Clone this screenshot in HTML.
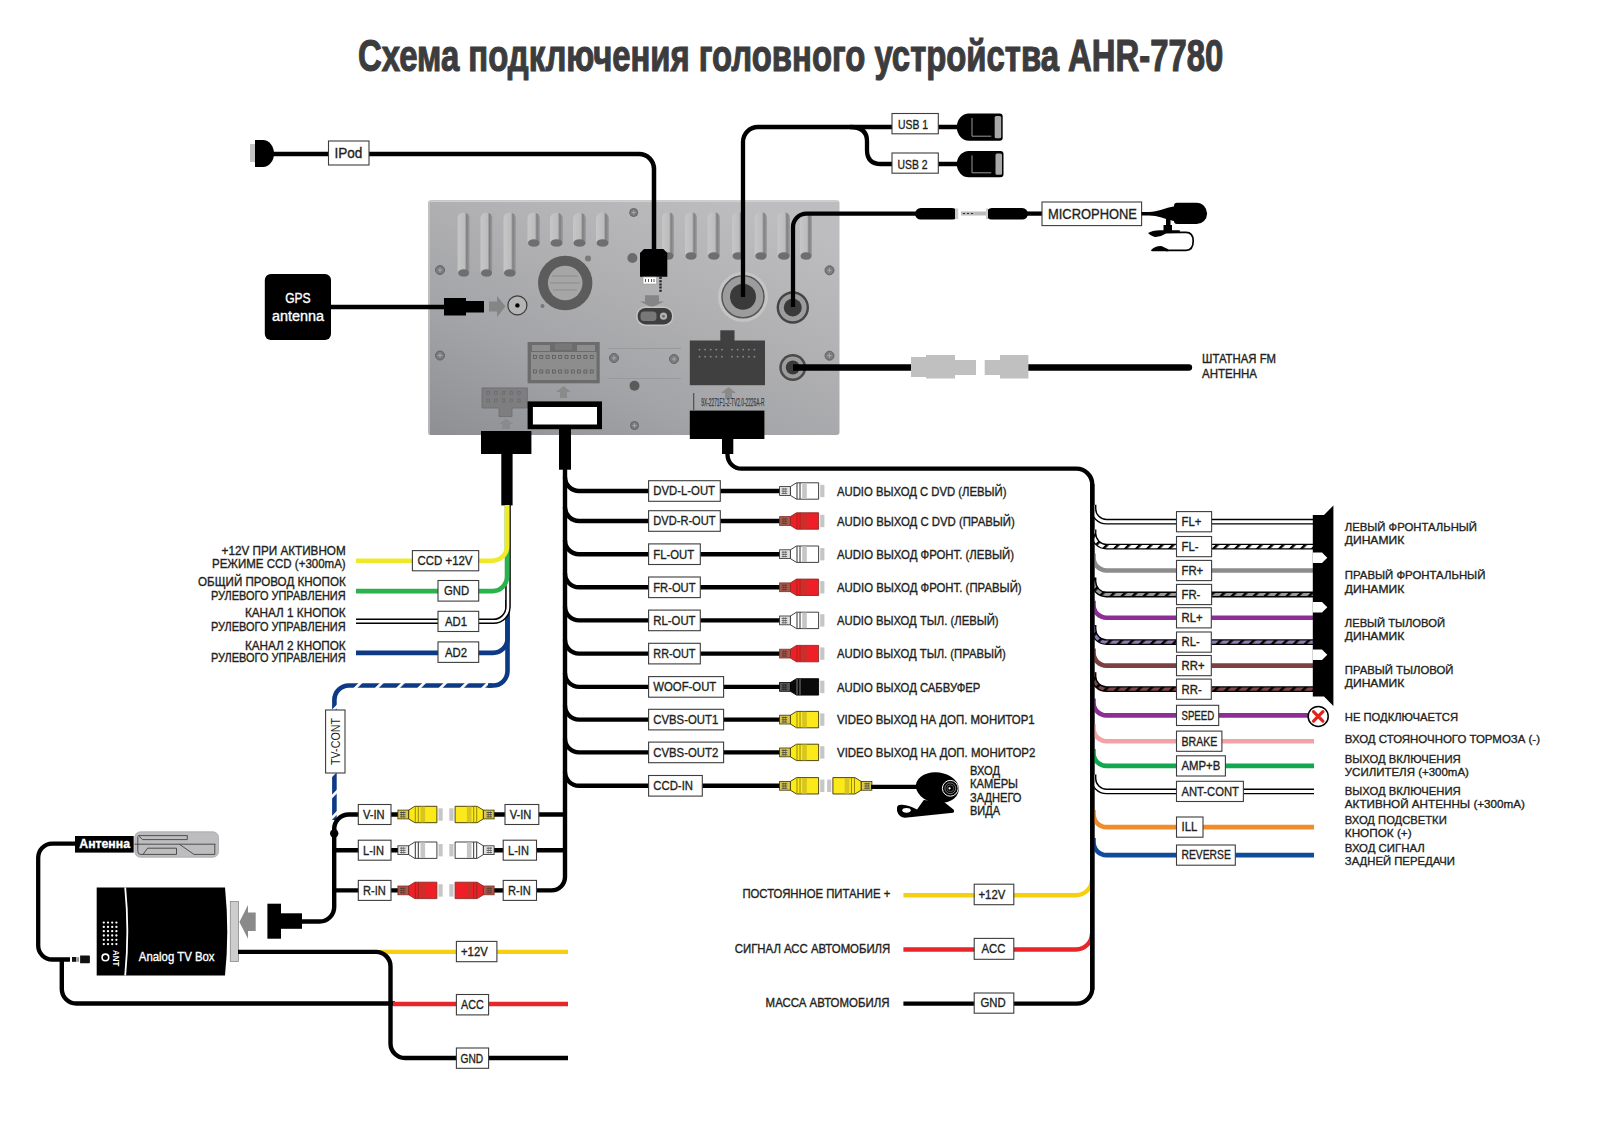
<!DOCTYPE html>
<html><head><meta charset="utf-8"><title>AHR-7780</title>
<style>
html,body{margin:0;padding:0;background:#fff;width:1600px;height:1131px;overflow:hidden}
svg{display:block}
text{font-family:"Liberation Sans",sans-serif}
.bx{fill:#fff;stroke:#3d3d3d;stroke-width:1.1}
</style></head><body>
<svg width="1600" height="1131" viewBox="0 0 1600 1131">
<defs>
<linearGradient id="body" x1="0" y1="1" x2="0.75" y2="0">
<stop offset="0" stop-color="#8e8f93"/><stop offset="0.35" stop-color="#a3a4a7"/><stop offset="0.7" stop-color="#b2b2b4"/><stop offset="1" stop-color="#bdbdbf"/>
</linearGradient>
<linearGradient id="slot" x1="0" y1="0" x2="1" y2="0">
<stop offset="0" stop-color="#c6c6c6"/><stop offset="0.6" stop-color="#bcbcbc"/><stop offset="0.75" stop-color="#7e7e80"/><stop offset="1" stop-color="#a0a0a2"/>
</linearGradient>
<pattern id="bdash" patternUnits="userSpaceOnUse" width="15.03" height="40" patternTransform="rotate(45)">
<rect width="15.03" height="40" fill="#0d3a85"/><rect width="2.7" height="40" fill="#fff"/>
</pattern>
</defs>
<rect width="1600" height="1131" fill="#fff"/>

<text x="358.0" y="70.7" font-size="45" stroke="#3c3c3e" stroke-width="1.2" font-weight="bold" fill="#3c3c3e" textLength="865.3" lengthAdjust="spacingAndGlyphs" >Схема подключения головного устройства AHR-7780</text>
<rect x="428" y="200.3" width="411.5" height="234.7" rx="3" fill="url(#body)"/>
<path d="M429,434 V202 Q429,201.3 431,201.3 H838" fill="none" stroke="#cfcfcf" stroke-width="1.2"/>
<rect x="457.6" y="212.5" width="12.1" height="64.5" rx="6.0" fill="url(#slot)"/>
<ellipse cx="463.6" cy="273.0" rx="5.5" ry="3.8" fill="#6e6e70"/>
<rect x="480.5" y="212.5" width="12.0" height="64.5" rx="6.0" fill="url(#slot)"/>
<ellipse cx="486.5" cy="273.0" rx="5.5" ry="3.8" fill="#6e6e70"/>
<rect x="503.5" y="212.5" width="12.5" height="64.5" rx="6.2" fill="url(#slot)"/>
<ellipse cx="509.8" cy="273.0" rx="5.8" ry="3.8" fill="#6e6e70"/>
<rect x="527.5" y="212.5" width="12.5" height="34.5" rx="6.2" fill="url(#slot)"/>
<ellipse cx="533.8" cy="243.0" rx="5.8" ry="3.8" fill="#6e6e70"/>
<rect x="550.0" y="212.5" width="13.0" height="34.5" rx="6.5" fill="url(#slot)"/>
<ellipse cx="556.5" cy="243.0" rx="6.0" ry="3.8" fill="#6e6e70"/>
<rect x="573.0" y="212.5" width="13.0" height="34.5" rx="6.5" fill="url(#slot)"/>
<ellipse cx="579.5" cy="243.0" rx="6.0" ry="3.8" fill="#6e6e70"/>
<rect x="596.0" y="212.5" width="13.0" height="34.5" rx="6.5" fill="url(#slot)"/>
<ellipse cx="602.5" cy="243.0" rx="6.0" ry="3.8" fill="#6e6e70"/>
<rect x="662.0" y="212.0" width="12.0" height="48.0" rx="6.0" fill="url(#slot)"/>
<ellipse cx="668.0" cy="256.0" rx="5.5" ry="3.8" fill="#6e6e70"/>
<rect x="685.0" y="212.0" width="12.0" height="48.0" rx="6.0" fill="url(#slot)"/>
<ellipse cx="691.0" cy="256.0" rx="5.5" ry="3.8" fill="#6e6e70"/>
<rect x="707.6" y="212.0" width="12.4" height="48.0" rx="6.2" fill="url(#slot)"/>
<ellipse cx="713.8" cy="256.0" rx="5.7" ry="3.8" fill="#6e6e70"/>
<rect x="732.0" y="212.0" width="12.0" height="48.0" rx="6.0" fill="url(#slot)"/>
<ellipse cx="738.0" cy="256.0" rx="5.5" ry="3.8" fill="#6e6e70"/>
<rect x="754.7" y="212.0" width="12.3" height="48.0" rx="6.1" fill="url(#slot)"/>
<ellipse cx="760.9" cy="256.0" rx="5.6" ry="3.8" fill="#6e6e70"/>
<rect x="777.5" y="212.0" width="12.5" height="48.0" rx="6.2" fill="url(#slot)"/>
<ellipse cx="783.8" cy="256.0" rx="5.8" ry="3.8" fill="#6e6e70"/>
<rect x="800.0" y="212.0" width="12.0" height="48.0" rx="6.0" fill="url(#slot)"/>
<ellipse cx="806.0" cy="256.0" rx="5.5" ry="3.8" fill="#6e6e70"/>
<circle cx="440.0" cy="270.0" r="4.5" fill="#7c7c7e" stroke="#5e5e60" stroke-width="0.9"/>
<path d="M437.8,270.0 h4.5 M440.0,267.8 v4.5" stroke="#b0b0b0" stroke-width="0.8"/>
<circle cx="633.7" cy="212.5" r="4.0" fill="#7c7c7e" stroke="#5e5e60" stroke-width="0.9"/>
<path d="M631.7,212.5 h4.0 M633.7,210.5 v4.0" stroke="#b0b0b0" stroke-width="0.8"/>
<circle cx="829.5" cy="270.3" r="4.5" fill="#7c7c7e" stroke="#5e5e60" stroke-width="0.9"/>
<path d="M827.2,270.3 h4.5 M829.5,268.1 v4.5" stroke="#b0b0b0" stroke-width="0.8"/>
<circle cx="440.0" cy="355.5" r="4.5" fill="#7c7c7e" stroke="#5e5e60" stroke-width="0.9"/>
<path d="M437.8,355.5 h4.5 M440.0,353.2 v4.5" stroke="#b0b0b0" stroke-width="0.8"/>
<circle cx="829.5" cy="355.7" r="4.5" fill="#7c7c7e" stroke="#5e5e60" stroke-width="0.9"/>
<path d="M827.2,355.7 h4.5 M829.5,353.4 v4.5" stroke="#b0b0b0" stroke-width="0.8"/>
<circle cx="614.0" cy="358.0" r="4.5" fill="#7c7c7e" stroke="#5e5e60" stroke-width="0.9"/>
<path d="M611.8,358.0 h4.5 M614.0,355.8 v4.5" stroke="#b0b0b0" stroke-width="0.8"/>
<circle cx="674.0" cy="359.0" r="4.5" fill="#7c7c7e" stroke="#5e5e60" stroke-width="0.9"/>
<path d="M671.8,359.0 h4.5 M674.0,356.8 v4.5" stroke="#b0b0b0" stroke-width="0.8"/>
<circle cx="634.5" cy="425.5" r="4.0" fill="#7c7c7e" stroke="#5e5e60" stroke-width="0.9"/>
<path d="M632.5,425.5 h4.0 M634.5,423.5 v4.0" stroke="#b0b0b0" stroke-width="0.8"/>
<circle cx="632.4" cy="258.0" r="5.0" fill="#6b6b6b" />
<circle cx="588.0" cy="258.5" r="3.0" fill="#7a7a7a" />
<circle cx="542.5" cy="306.0" r="2.0" fill="#777" />
<circle cx="634.5" cy="385.7" r="5.0" fill="#5a5a5a" />
<path d="M608,348.5 H681 M608,378.5 H681" stroke="#999" stroke-width="1" fill="none"/>
<circle cx="565.2" cy="283.0" r="27.2" fill="#5c5c5c" />
<circle cx="565.2" cy="283.0" r="17.3" fill="#a6a6a6" />
<path d="M552,276 H578 M550,283 H580 M553,290 H577" stroke="#8c8c8c" stroke-width="1.2" fill="none"/>
<polygon points="489,301.5 497,301.5 497,296 505.5,306.5 497,317 497,311.5 489,311.5" fill="#858585"/>
<circle cx="517.4" cy="305.4" r="9.5" fill="#b4b4b4" stroke="#3a3a3a" stroke-width="1.2"/>
<circle cx="517.4" cy="305.4" r="2.2" fill="#000" />
<polygon points="645,295.3 659,295.3 659,301.5 664,301.5 651.8,307.5 640,301.5 645,301.5" fill="#858585"/>
<rect x="636" y="306.5" width="37.5" height="19.5" rx="9.5" fill="#c4c4c4"/>
<rect x="637.6" y="308" width="34.4" height="16.4" rx="8" fill="#3e3e3e"/>
<rect x="640.5" y="311.5" width="16" height="9.5" rx="3.5" fill="#787878"/>
<circle cx="663.5" cy="316.2" r="3.6" fill="#b0b0b0" />
<circle cx="663.5" cy="316.2" r="1.3" fill="#666" />
<circle cx="743.0" cy="296.8" r="25.0" fill="#c4c4c4" />
<circle cx="743.0" cy="296.8" r="21.0" fill="#9c9c9c" stroke="#555" stroke-width="1.5"/>
<circle cx="743.0" cy="296.8" r="13.0" fill="#3a3a3a" />
<circle cx="792.8" cy="307.5" r="16.2" fill="#444" />
<circle cx="792.8" cy="307.5" r="13.8" fill="#9c9c9c" />
<circle cx="792.8" cy="307.5" r="9.0" fill="#3a3a3a" />
<circle cx="792.8" cy="367.5" r="13.5" fill="#4a4a4a" />
<circle cx="792.8" cy="367.5" r="11.0" fill="#9c9c9c" />
<circle cx="792.8" cy="367.5" r="7.0" fill="#3a3a3a" />
<rect x="527.6" y="342.0" width="72.1" height="41.3" fill="#6c6c6c" />
<rect x="531.0" y="352.0" width="65.5" height="28.0" fill="#8d8d8d" />
<rect x="532.0" y="345.0" width="18.0" height="6.0" fill="#8d8d8d" />
<rect x="555.0" y="343.5" width="17.0" height="6.5" fill="#777" />
<rect x="577.0" y="345.0" width="18.0" height="6.0" fill="#8d8d8d" />
<rect x="533.5" y="355.5" width="3" height="3" fill="none" stroke="#555" stroke-width="0.7"/><rect x="533.5" y="370" width="3" height="3" fill="none" stroke="#555" stroke-width="0.7"/><rect x="539.8" y="355.5" width="3" height="3" fill="none" stroke="#555" stroke-width="0.7"/><rect x="539.8" y="370" width="3" height="3" fill="none" stroke="#555" stroke-width="0.7"/><rect x="546.1" y="355.5" width="3" height="3" fill="none" stroke="#555" stroke-width="0.7"/><rect x="546.1" y="370" width="3" height="3" fill="none" stroke="#555" stroke-width="0.7"/><rect x="552.4" y="355.5" width="3" height="3" fill="none" stroke="#555" stroke-width="0.7"/><rect x="552.4" y="370" width="3" height="3" fill="none" stroke="#555" stroke-width="0.7"/><rect x="558.7" y="355.5" width="3" height="3" fill="none" stroke="#555" stroke-width="0.7"/><rect x="558.7" y="370" width="3" height="3" fill="none" stroke="#555" stroke-width="0.7"/><rect x="565.0" y="355.5" width="3" height="3" fill="none" stroke="#555" stroke-width="0.7"/><rect x="565.0" y="370" width="3" height="3" fill="none" stroke="#555" stroke-width="0.7"/><rect x="571.3" y="355.5" width="3" height="3" fill="none" stroke="#555" stroke-width="0.7"/><rect x="571.3" y="370" width="3" height="3" fill="none" stroke="#555" stroke-width="0.7"/><rect x="577.6" y="355.5" width="3" height="3" fill="none" stroke="#555" stroke-width="0.7"/><rect x="577.6" y="370" width="3" height="3" fill="none" stroke="#555" stroke-width="0.7"/><rect x="583.9" y="355.5" width="3" height="3" fill="none" stroke="#555" stroke-width="0.7"/><rect x="583.9" y="370" width="3" height="3" fill="none" stroke="#555" stroke-width="0.7"/><rect x="590.2" y="355.5" width="3" height="3" fill="none" stroke="#555" stroke-width="0.7"/><rect x="590.2" y="370" width="3" height="3" fill="none" stroke="#555" stroke-width="0.7"/>
<polygon points="556,392 563.5,386 571,392 567,392 567,398 560,398 560,392" fill="#8a8a8a"/>
<path d="M482,387.9 H527.3 V408 H512 V416.6 H499 V408 H482 Z" fill="#7e7e80" stroke="#6c6c6e" stroke-width="0.8"/>
<rect x="487.0" y="391.5" width="2.4" height="3" fill="none" stroke="#666" stroke-width="0.6"/><rect x="487.0" y="399" width="2.4" height="3" fill="none" stroke="#666" stroke-width="0.6"/><rect x="494.7" y="391.5" width="2.4" height="3" fill="none" stroke="#666" stroke-width="0.6"/><rect x="494.7" y="399" width="2.4" height="3" fill="none" stroke="#666" stroke-width="0.6"/><rect x="502.4" y="391.5" width="2.4" height="3" fill="none" stroke="#666" stroke-width="0.6"/><rect x="502.4" y="399" width="2.4" height="3" fill="none" stroke="#666" stroke-width="0.6"/><rect x="510.1" y="391.5" width="2.4" height="3" fill="none" stroke="#666" stroke-width="0.6"/><rect x="510.1" y="399" width="2.4" height="3" fill="none" stroke="#666" stroke-width="0.6"/><rect x="517.8" y="391.5" width="2.4" height="3" fill="none" stroke="#666" stroke-width="0.6"/><rect x="517.8" y="399" width="2.4" height="3" fill="none" stroke="#666" stroke-width="0.6"/>
<polygon points="499,424 506,418.5 513,424 510,424 510,429 502,429 502,424" fill="#8a8a8a"/>
<rect x="689.8" y="340.5" width="75.2" height="44.7" fill="#404040" />
<rect x="720.3" y="330.3" width="14.2" height="10.7" fill="#404040" />
<circle cx="699.5" cy="349.6" r="0.9" fill="#8a8a8a"/><circle cx="732.0" cy="349.6" r="0.9" fill="#8a8a8a"/><circle cx="705.1" cy="349.6" r="0.9" fill="#8a8a8a"/><circle cx="737.6" cy="349.6" r="0.9" fill="#8a8a8a"/><circle cx="710.7" cy="349.6" r="0.9" fill="#8a8a8a"/><circle cx="743.2" cy="349.6" r="0.9" fill="#8a8a8a"/><circle cx="716.3" cy="349.6" r="0.9" fill="#8a8a8a"/><circle cx="748.8" cy="349.6" r="0.9" fill="#8a8a8a"/><circle cx="721.9" cy="349.6" r="0.9" fill="#8a8a8a"/><circle cx="754.4" cy="349.6" r="0.9" fill="#8a8a8a"/><circle cx="699.5" cy="356.7" r="0.9" fill="#8a8a8a"/><circle cx="732.0" cy="356.7" r="0.9" fill="#8a8a8a"/><circle cx="705.1" cy="356.7" r="0.9" fill="#8a8a8a"/><circle cx="737.6" cy="356.7" r="0.9" fill="#8a8a8a"/><circle cx="710.7" cy="356.7" r="0.9" fill="#8a8a8a"/><circle cx="743.2" cy="356.7" r="0.9" fill="#8a8a8a"/><circle cx="716.3" cy="356.7" r="0.9" fill="#8a8a8a"/><circle cx="748.8" cy="356.7" r="0.9" fill="#8a8a8a"/><circle cx="721.9" cy="356.7" r="0.9" fill="#8a8a8a"/><circle cx="754.4" cy="356.7" r="0.9" fill="#8a8a8a"/>
<polygon points="721,393 728.5,387 736,393 732,393 732,399 725,399 725,393" fill="#8a8a8a"/>
<rect x="693" y="393" width="1.3" height="17" fill="#555"/>
<text x="701.3" y="405.8" font-size="11" fill="#3a3a3a" stroke="#3a3a3a" stroke-width="0.25" textLength="63.2" lengthAdjust="spacingAndGlyphs">9X-2271F1-2-TV2.0-2226A-R</text>
<rect x="250" y="144" width="6" height="18" fill="#c4c4c4"/>
<path d="M255,140 H263 A11,13.5 0 0 1 263,167 H255 Z" fill="#000"/>
<path d="M272,154 H639 A15,15 0 0 1 654,169 V252" fill="none" stroke="#000" stroke-width="4.5" />
<rect x="328.5" y="141.0" width="40.5" height="24.0" class="bx"/>
<text x="334.4" y="157.8" font-size="14" stroke="#231f20" stroke-width="0.35" fill="#231f20" textLength="27.9" lengthAdjust="spacingAndGlyphs" >IPod</text>
<path d="M640,276.7 V253 L644,249 H663.3 L667.3,253 V276.7 Z" fill="#000"/>
<rect x="643.0" y="277.0" width="13.5" height="7.0" fill="#fff" stroke="#999" stroke-width="0.6"/>
<path d="M645.5,279 v3 M648.5,279 v3 M651.5,279 v3 M654,279 v3" stroke="#555" stroke-width="1"/>
<path d="M660.5,277 V292" stroke="#222" stroke-width="2.4" stroke-dasharray="2,1.2"/>
<rect x="264.8" y="274" width="66.2" height="66" rx="6" fill="#000"/>
<text x="297.9" y="302.5" font-size="14" stroke="#fff" stroke-width="0.35" fill="#fff" text-anchor="middle" textLength="25.5" lengthAdjust="spacingAndGlyphs" >GPS</text>
<text x="297.9" y="321.0" font-size="14" stroke="#fff" stroke-width="0.35" fill="#fff" text-anchor="middle" textLength="52.0" lengthAdjust="spacingAndGlyphs" >antenna</text>
<path d="M331,307 H446" fill="none" stroke="#000" stroke-width="4.6" />
<rect x="444.0" y="298.0" width="22.0" height="17.5" fill="#000" />
<rect x="465.0" y="301.0" width="19.0" height="11.5" fill="#000" />
<path d="M743,297 V142 A15,15 0 0 1 758,127 H957" fill="none" stroke="#000" stroke-width="4.3" />
<path d="M850,127 Q867,127 867,141 V150 Q867,164 881,164 H957" fill="none" stroke="#000" stroke-width="4.3" />
<rect x="892.0" y="113.5" width="46.3" height="20.3" class="bx"/>
<text x="898.0" y="129.2" font-size="12.6" stroke="#231f20" stroke-width="0.35" fill="#231f20" textLength="30.0" lengthAdjust="spacingAndGlyphs" >USB 1</text>
<rect x="892.0" y="153.0" width="46.3" height="20.2" class="bx"/>
<text x="897.5" y="168.6" font-size="12.6" stroke="#231f20" stroke-width="0.35" fill="#231f20" textLength="30.0" lengthAdjust="spacingAndGlyphs" >USB 2</text>
<path d="M968.8,113.5 H999.7 Q1002.7,113.5 1002.7,116.5 V137.7 Q1002.7,140.7 999.7,140.7 H968.8 A12,13.6 0 0 1 968.8,113.5 Z" fill="#000"/>
<rect x="994.7" y="116.0" width="6.5" height="22.2" rx="1.5" fill="#a8a8a8"/>
<path d="M972,118.0 V136.2 H991.3" fill="none" stroke="#9a9a9a" stroke-width="1"/>
<path d="M968.8,150.9 H1000.5 Q1003.5,150.9 1003.5,153.9 V174.3 Q1003.5,177.3 1000.5,177.3 H968.8 A12,13.2 0 0 1 968.8,150.9 Z" fill="#000"/>
<rect x="995.5" y="153.4" width="6.5" height="21.4" rx="1.5" fill="#a8a8a8"/>
<path d="M972,155.4 V172.8 H991.3" fill="none" stroke="#9a9a9a" stroke-width="1"/>
<path d="M793,307 V227 A13.5,13.5 0 0 1 806.5,213.6 H918" fill="none" stroke="#000" stroke-width="4.3" />
<rect x="915" y="208" width="43" height="11.6" rx="5.8" fill="#000"/>
<rect x="955" y="208.5" width="3.2" height="10.6" fill="#ccc"/>
<rect x="961" y="211.5" width="25" height="4" fill="#bbb"/>
<path d="M963,213.5 h2 m2,0 h2 m2,0 h2" stroke="#333" stroke-width="1.2"/>
<rect x="986" y="208" width="42" height="11.6" rx="5.8" fill="#000"/>
<rect x="986" y="208.5" width="2" height="10.6" fill="#ccc"/>
<path d="M1026,213.6 H1043" fill="none" stroke="#000" stroke-width="4.3" />
<rect x="1042.0" y="202.0" width="99.6" height="23.6" class="bx"/>
<text x="1048.0" y="218.8" font-size="14.5" stroke="#231f20" stroke-width="0.35" fill="#231f20" textLength="89.0" lengthAdjust="spacingAndGlyphs" >MICROPHONE</text>
<path d="M1141.6,211.9 H1149 C1158,211.9 1165,208 1174.5,206.3 V221.2 C1165,219.2 1158,215.6 1149,215.6 H1141.6 Z" fill="#000"/>
<path d="M1177,202.8 H1196.5 A10.6,10.6 0 0 1 1196.5,224 H1177 Q1174,224 1174,221 V205.8 Q1174,202.8 1177,202.8 Z" fill="#000"/>
<polygon points="1166,219 1170.5,219 1170.5,225 1172,225 1172,231 1163.5,231 1163.5,225 1166,225" fill="#000"/>
<path d="M1148,233 Q1152,230.5 1160,230.2 L1179.8,230.2 V233.3 L1166,233.5 Q1160,237.5 1154,236.8 Q1150,235.5 1148,233 Z" fill="#000"/>
<path d="M1179,232.3 H1186 Q1193.2,232.3 1193.2,241 Q1193.2,250.3 1186,250.3 H1166" fill="none" stroke="#000" stroke-width="1.7"/>
<path d="M1150.8,250.3 Q1156,245.5 1162,246.2 Q1166,248 1168.3,249.3 L1168.3,251.3 H1152 Z" fill="#000"/>
<path d="M793,367.5 H915" fill="none" stroke="#000" stroke-width="6.3" />
<path d="M1025,367.5 H1189" fill="none" stroke="#000" stroke-width="6.3" stroke-linecap="round"/>
<path d="M911,357 H926 V355 H955 V360 H976 V375 H955 V378.4 H926 V377 H911 Z" fill="#c0c0c0"/>
<path d="M984.7,360 H1000 V355 H1028.4 V378.4 H1000 V375 H984.7 Z" fill="#c0c0c0"/>
<text x="1202.0" y="362.5" font-size="12" stroke="#231f20" stroke-width="0.35" fill="#231f20" textLength="74.0" lengthAdjust="spacingAndGlyphs" >ШТАТНАЯ FM</text>
<text x="1202.0" y="377.5" font-size="12" stroke="#231f20" stroke-width="0.35" fill="#231f20" textLength="55.0" lengthAdjust="spacingAndGlyphs" >АНТЕННА</text>
<rect x="481.0" y="431.0" width="50.4" height="23.0" fill="#000" />
<rect x="501.3" y="453.0" width="11.3" height="52.4" fill="#000" />
<rect x="527.6" y="401.4" width="74.4" height="27.8" fill="#000" />
<rect x="532.9" y="407.0" width="64.1" height="17.5" fill="#fff" />
<rect x="559.0" y="429.0" width="12.0" height="40.7" fill="#000" />
<rect x="689.8" y="410.6" width="74.6" height="28.4" fill="#000" />
<rect x="722.0" y="438.0" width="11.3" height="16.0" fill="#000" />
<path d="M565,466 V877 A13.5,13.5 0 0 1 551.5,890.4 H536" fill="none" stroke="#000" stroke-width="4.4" />
<path d="M565,477.0 A14,14 0 0 0 579,491.0 H781" fill="none" stroke="#000" stroke-width="4.4" />
<rect x="648.6" y="480.7" width="71.7" height="20.6" class="bx"/>
<text x="653.3" y="495.3" font-size="12.6" stroke="#231f20" stroke-width="0.35" fill="#231f20" textLength="61.7" lengthAdjust="spacingAndGlyphs" >DVD-L-OUT</text>
<g transform="translate(779.2,491.0)"><rect x="41" y="-6.2" width="4.2" height="12.4" fill="#c6c6c6"/><rect x="0.4" y="-4.4" width="10.8" height="8.8" fill="#e4e4e4" stroke="#2a2a2a" stroke-width="0.8"/><path d="M2.5,-2 H8 M2.5,0.2 H8 M2.5,2.4 H8" stroke="#555" stroke-width="0.9"/><path d="M4,-3.2 V3.2 M6.2,-3.2 V3.2" stroke="#555" stroke-width="0.5"/><path d="M11.2,-4.4 L17.3,-8.2 H39.4 V8.2 H17.3 L11.2,4.4 Z" fill="#ffffff" stroke="#2a2a2a" stroke-width="0.9"/><rect x="23" y="-7.8" width="4.6" height="15.6" fill="#c6c6c6"/><path d="M17.8,-8 V8 M20.8,-8 V8" stroke="#1a1a1a" stroke-width="0.9"/></g>
<text x="837.0" y="495.6" font-size="12.2" stroke="#231f20" stroke-width="0.35" fill="#231f20" textLength="169.5" lengthAdjust="spacingAndGlyphs" >AUDIO ВЫХОД С DVD (ЛЕВЫЙ)</text>
<path d="M565,507.0 A14,14 0 0 0 579,521.0 H781" fill="none" stroke="#000" stroke-width="4.4" />
<rect x="648.6" y="510.7" width="71.7" height="20.6" class="bx"/>
<text x="653.3" y="525.3" font-size="12.6" stroke="#231f20" stroke-width="0.35" fill="#231f20" textLength="62.2" lengthAdjust="spacingAndGlyphs" >DVD-R-OUT</text>
<g transform="translate(779.2,521.0)"><rect x="41" y="-6.2" width="4.2" height="12.4" fill="#c6c6c6"/><rect x="0.4" y="-4.4" width="10.8" height="8.8" fill="#a65a4e" stroke="#8a2a25" stroke-width="0.8"/><path d="M2.5,-2 H8 M2.5,0.2 H8 M2.5,2.4 H8" stroke="#5a3a30" stroke-width="0.9"/><path d="M4,-3.2 V3.2 M6.2,-3.2 V3.2" stroke="#5a3a30" stroke-width="0.5"/><path d="M11.2,-4.4 L17.3,-8.2 H39.4 V8.2 H17.3 L11.2,4.4 Z" fill="#ee1f26" stroke="#8a2a25" stroke-width="0.9"/><rect x="23" y="-7.8" width="4.6" height="15.6" fill="#c9302c"/><path d="M17.8,-8 V8 M20.8,-8 V8" stroke="#8c2a22" stroke-width="0.9"/></g>
<text x="837.0" y="525.6" font-size="12.2" stroke="#231f20" stroke-width="0.35" fill="#231f20" textLength="177.8" lengthAdjust="spacingAndGlyphs" >AUDIO ВЫХОД С DVD (ПРАВЫЙ)</text>
<path d="M565,540.2 A14,14 0 0 0 579,554.2 H781" fill="none" stroke="#000" stroke-width="4.4" />
<rect x="648.6" y="543.9" width="51.7" height="20.6" class="bx"/>
<text x="653.3" y="558.5" font-size="12.6" stroke="#231f20" stroke-width="0.35" fill="#231f20" textLength="40.9" lengthAdjust="spacingAndGlyphs" >FL-OUT</text>
<g transform="translate(779.2,554.2)"><rect x="41" y="-6.2" width="4.2" height="12.4" fill="#c6c6c6"/><rect x="0.4" y="-4.4" width="10.8" height="8.8" fill="#e4e4e4" stroke="#2a2a2a" stroke-width="0.8"/><path d="M2.5,-2 H8 M2.5,0.2 H8 M2.5,2.4 H8" stroke="#555" stroke-width="0.9"/><path d="M4,-3.2 V3.2 M6.2,-3.2 V3.2" stroke="#555" stroke-width="0.5"/><path d="M11.2,-4.4 L17.3,-8.2 H39.4 V8.2 H17.3 L11.2,4.4 Z" fill="#ffffff" stroke="#2a2a2a" stroke-width="0.9"/><rect x="23" y="-7.8" width="4.6" height="15.6" fill="#c6c6c6"/><path d="M17.8,-8 V8 M20.8,-8 V8" stroke="#1a1a1a" stroke-width="0.9"/></g>
<text x="837.0" y="558.8" font-size="12.2" stroke="#231f20" stroke-width="0.35" fill="#231f20" textLength="177.0" lengthAdjust="spacingAndGlyphs" >AUDIO ВЫХОД ФРОНТ. (ЛЕВЫЙ)</text>
<path d="M565,573.3 A14,14 0 0 0 579,587.3 H781" fill="none" stroke="#000" stroke-width="4.4" />
<rect x="648.6" y="577.0" width="51.7" height="20.6" class="bx"/>
<text x="653.3" y="591.6" font-size="12.6" stroke="#231f20" stroke-width="0.35" fill="#231f20" textLength="42.2" lengthAdjust="spacingAndGlyphs" >FR-OUT</text>
<g transform="translate(779.2,587.3)"><rect x="41" y="-6.2" width="4.2" height="12.4" fill="#c6c6c6"/><rect x="0.4" y="-4.4" width="10.8" height="8.8" fill="#a65a4e" stroke="#8a2a25" stroke-width="0.8"/><path d="M2.5,-2 H8 M2.5,0.2 H8 M2.5,2.4 H8" stroke="#5a3a30" stroke-width="0.9"/><path d="M4,-3.2 V3.2 M6.2,-3.2 V3.2" stroke="#5a3a30" stroke-width="0.5"/><path d="M11.2,-4.4 L17.3,-8.2 H39.4 V8.2 H17.3 L11.2,4.4 Z" fill="#ee1f26" stroke="#8a2a25" stroke-width="0.9"/><rect x="23" y="-7.8" width="4.6" height="15.6" fill="#c9302c"/><path d="M17.8,-8 V8 M20.8,-8 V8" stroke="#8c2a22" stroke-width="0.9"/></g>
<text x="837.0" y="591.9" font-size="12.2" stroke="#231f20" stroke-width="0.35" fill="#231f20" textLength="184.6" lengthAdjust="spacingAndGlyphs" >AUDIO ВЫХОД ФРОНТ. (ПРАВЫЙ)</text>
<path d="M565,606.4 A14,14 0 0 0 579,620.4 H781" fill="none" stroke="#000" stroke-width="4.4" />
<rect x="648.6" y="610.1" width="51.7" height="20.6" class="bx"/>
<text x="653.3" y="624.7" font-size="12.6" stroke="#231f20" stroke-width="0.35" fill="#231f20" textLength="42.2" lengthAdjust="spacingAndGlyphs" >RL-OUT</text>
<g transform="translate(779.2,620.4)"><rect x="41" y="-6.2" width="4.2" height="12.4" fill="#c6c6c6"/><rect x="0.4" y="-4.4" width="10.8" height="8.8" fill="#e4e4e4" stroke="#2a2a2a" stroke-width="0.8"/><path d="M2.5,-2 H8 M2.5,0.2 H8 M2.5,2.4 H8" stroke="#555" stroke-width="0.9"/><path d="M4,-3.2 V3.2 M6.2,-3.2 V3.2" stroke="#555" stroke-width="0.5"/><path d="M11.2,-4.4 L17.3,-8.2 H39.4 V8.2 H17.3 L11.2,4.4 Z" fill="#ffffff" stroke="#2a2a2a" stroke-width="0.9"/><rect x="23" y="-7.8" width="4.6" height="15.6" fill="#c6c6c6"/><path d="M17.8,-8 V8 M20.8,-8 V8" stroke="#1a1a1a" stroke-width="0.9"/></g>
<text x="837.0" y="625.0" font-size="12.2" stroke="#231f20" stroke-width="0.35" fill="#231f20" textLength="161.6" lengthAdjust="spacingAndGlyphs" >AUDIO ВЫХОД ТЫЛ. (ЛЕВЫЙ)</text>
<path d="M565,639.6 A14,14 0 0 0 579,653.6 H781" fill="none" stroke="#000" stroke-width="4.4" />
<rect x="648.6" y="643.3" width="51.7" height="20.6" class="bx"/>
<text x="653.3" y="657.9" font-size="12.6" stroke="#231f20" stroke-width="0.35" fill="#231f20" textLength="42.2" lengthAdjust="spacingAndGlyphs" >RR-OUT</text>
<g transform="translate(779.2,653.6)"><rect x="41" y="-6.2" width="4.2" height="12.4" fill="#c6c6c6"/><rect x="0.4" y="-4.4" width="10.8" height="8.8" fill="#a65a4e" stroke="#8a2a25" stroke-width="0.8"/><path d="M2.5,-2 H8 M2.5,0.2 H8 M2.5,2.4 H8" stroke="#5a3a30" stroke-width="0.9"/><path d="M4,-3.2 V3.2 M6.2,-3.2 V3.2" stroke="#5a3a30" stroke-width="0.5"/><path d="M11.2,-4.4 L17.3,-8.2 H39.4 V8.2 H17.3 L11.2,4.4 Z" fill="#ee1f26" stroke="#8a2a25" stroke-width="0.9"/><rect x="23" y="-7.8" width="4.6" height="15.6" fill="#c9302c"/><path d="M17.8,-8 V8 M20.8,-8 V8" stroke="#8c2a22" stroke-width="0.9"/></g>
<text x="837.0" y="658.2" font-size="12.2" stroke="#231f20" stroke-width="0.35" fill="#231f20" textLength="168.8" lengthAdjust="spacingAndGlyphs" >AUDIO ВЫХОД ТЫЛ. (ПРАВЫЙ)</text>
<path d="M565,672.9 A14,14 0 0 0 579,686.9 H781" fill="none" stroke="#000" stroke-width="4.4" />
<rect x="648.6" y="676.6" width="75.0" height="20.6" class="bx"/>
<text x="653.3" y="691.2" font-size="12.6" stroke="#231f20" stroke-width="0.35" fill="#231f20" textLength="63.0" lengthAdjust="spacingAndGlyphs" >WOOF-OUT</text>
<g transform="translate(779.2,686.9)"><rect x="41" y="-6.2" width="4.2" height="12.4" fill="#c6c6c6"/><rect x="0.4" y="-4.4" width="10.8" height="8.8" fill="#5a5a5a" stroke="#000" stroke-width="0.8"/><path d="M2.5,-2 H8 M2.5,0.2 H8 M2.5,2.4 H8" stroke="#222" stroke-width="0.9"/><path d="M4,-3.2 V3.2 M6.2,-3.2 V3.2" stroke="#222" stroke-width="0.5"/><path d="M11.2,-4.4 L17.3,-8.2 H39.4 V8.2 H17.3 L11.2,4.4 Z" fill="#0a0a0a" stroke="#000" stroke-width="0.9"/><rect x="23" y="-7.8" width="4.6" height="15.6" fill="#0a0a0a"/><path d="M17.8,-8 V8 M20.8,-8 V8" stroke="#8a8a8a" stroke-width="0.9"/></g>
<text x="837.0" y="691.5" font-size="12.2" stroke="#231f20" stroke-width="0.35" fill="#231f20" textLength="143.4" lengthAdjust="spacingAndGlyphs" >AUDIO ВЫХОД САБВУФЕР</text>
<path d="M565,705.6 A14,14 0 0 0 579,719.6 H781" fill="none" stroke="#000" stroke-width="4.4" />
<rect x="648.6" y="709.3" width="75.0" height="20.6" class="bx"/>
<text x="653.3" y="723.9" font-size="12.6" stroke="#231f20" stroke-width="0.35" fill="#231f20" textLength="64.9" lengthAdjust="spacingAndGlyphs" >CVBS-OUT1</text>
<g transform="translate(779.2,719.6)"><rect x="41" y="-6.2" width="4.2" height="12.4" fill="#c6c6c6"/><rect x="0.4" y="-4.4" width="10.8" height="8.8" fill="#d8c850" stroke="#3a3500" stroke-width="0.8"/><path d="M2.5,-2 H8 M2.5,0.2 H8 M2.5,2.4 H8" stroke="#444" stroke-width="0.9"/><path d="M4,-3.2 V3.2 M6.2,-3.2 V3.2" stroke="#444" stroke-width="0.5"/><path d="M11.2,-4.4 L17.3,-8.2 H39.4 V8.2 H17.3 L11.2,4.4 Z" fill="#fbe919" stroke="#3a3500" stroke-width="0.9"/><rect x="23" y="-7.8" width="4.6" height="15.6" fill="#d8c522"/><path d="M17.8,-8 V8 M20.8,-8 V8" stroke="#8a7d10" stroke-width="0.9"/></g>
<text x="837.0" y="724.2" font-size="12.2" stroke="#231f20" stroke-width="0.35" fill="#231f20" textLength="197.7" lengthAdjust="spacingAndGlyphs" >VIDEO ВЫХОД НА ДОП. МОНИТОР1</text>
<path d="M565,738.4 A14,14 0 0 0 579,752.4 H781" fill="none" stroke="#000" stroke-width="4.4" />
<rect x="648.6" y="742.1" width="75.0" height="20.6" class="bx"/>
<text x="653.3" y="756.7" font-size="12.6" stroke="#231f20" stroke-width="0.35" fill="#231f20" textLength="64.9" lengthAdjust="spacingAndGlyphs" >CVBS-OUT2</text>
<g transform="translate(779.2,752.4)"><rect x="41" y="-6.2" width="4.2" height="12.4" fill="#c6c6c6"/><rect x="0.4" y="-4.4" width="10.8" height="8.8" fill="#d8c850" stroke="#3a3500" stroke-width="0.8"/><path d="M2.5,-2 H8 M2.5,0.2 H8 M2.5,2.4 H8" stroke="#444" stroke-width="0.9"/><path d="M4,-3.2 V3.2 M6.2,-3.2 V3.2" stroke="#444" stroke-width="0.5"/><path d="M11.2,-4.4 L17.3,-8.2 H39.4 V8.2 H17.3 L11.2,4.4 Z" fill="#fbe919" stroke="#3a3500" stroke-width="0.9"/><rect x="23" y="-7.8" width="4.6" height="15.6" fill="#d8c522"/><path d="M17.8,-8 V8 M20.8,-8 V8" stroke="#8a7d10" stroke-width="0.9"/></g>
<text x="837.0" y="757.0" font-size="12.2" stroke="#231f20" stroke-width="0.35" fill="#231f20" textLength="198.4" lengthAdjust="spacingAndGlyphs" >VIDEO ВЫХОД НА ДОП. МОНИТОР2</text>
<path d="M565,771.8 A14,14 0 0 0 579,785.8 H781" fill="none" stroke="#000" stroke-width="4.4" />
<rect x="648.6" y="775.5" width="53.7" height="20.6" class="bx"/>
<text x="653.3" y="790.1" font-size="12.6" stroke="#231f20" stroke-width="0.35" fill="#231f20" textLength="39.7" lengthAdjust="spacingAndGlyphs" >CCD-IN</text>
<g transform="translate(779.2,785.8)"><rect x="41" y="-6.2" width="4.2" height="12.4" fill="#c6c6c6"/><rect x="0.4" y="-4.4" width="10.8" height="8.8" fill="#d8c850" stroke="#3a3500" stroke-width="0.8"/><path d="M2.5,-2 H8 M2.5,0.2 H8 M2.5,2.4 H8" stroke="#444" stroke-width="0.9"/><path d="M4,-3.2 V3.2 M6.2,-3.2 V3.2" stroke="#444" stroke-width="0.5"/><path d="M11.2,-4.4 L17.3,-8.2 H39.4 V8.2 H17.3 L11.2,4.4 Z" fill="#fbe919" stroke="#3a3500" stroke-width="0.9"/><rect x="23" y="-7.8" width="4.6" height="15.6" fill="#d8c522"/><path d="M17.8,-8 V8 M20.8,-8 V8" stroke="#8a7d10" stroke-width="0.9"/></g>
<g transform="translate(872.3,785.8) scale(-1,1)"><rect x="41" y="-6.2" width="4.2" height="12.4" fill="#c6c6c6"/><rect x="0.4" y="-4.4" width="10.8" height="8.8" fill="#d8c850" stroke="#3a3500" stroke-width="0.8"/><path d="M2.5,-2 H8 M2.5,0.2 H8 M2.5,2.4 H8" stroke="#444" stroke-width="0.9"/><path d="M4,-3.2 V3.2 M6.2,-3.2 V3.2" stroke="#444" stroke-width="0.5"/><path d="M11.2,-4.4 L17.3,-8.2 H39.4 V8.2 H17.3 L11.2,4.4 Z" fill="#fbe919" stroke="#3a3500" stroke-width="0.9"/><rect x="23" y="-7.8" width="4.6" height="15.6" fill="#d8c522"/><path d="M17.8,-8 V8 M20.8,-8 V8" stroke="#8a7d10" stroke-width="0.9"/></g>
<path d="M871,786.8 H920" fill="none" stroke="#000" stroke-width="4.2" />
<ellipse cx="937.4" cy="787.6" rx="21.6" ry="15.3" transform="rotate(8 937.4 787.6)" fill="#000"/>
<path d="M897,808 Q897,804.5 902,804.8 Q910,805.5 917,809.5 L923.8,800 L944,802 L953.5,809.5 Q955,812 953,812.8 L905,817.8 Q899,817.5 897,811 Z" fill="#000"/>
<ellipse cx="906.5" cy="810.3" rx="4.2" ry="2.4" fill="#fff"/>
<circle cx="950.3" cy="788.3" r="7.9" fill="none" stroke="#fff" stroke-width="1"/>
<circle cx="950.3" cy="788.3" r="5.4" fill="none" stroke="#999" stroke-width="0.8"/>
<circle cx="950.3" cy="788.3" r="3.4" fill="none" stroke="#777" stroke-width="0.7"/>
<circle cx="949.6" cy="788.3" r="1.1" fill="#fff"/>
<text x="970.0" y="775.0" font-size="12" stroke="#231f20" stroke-width="0.35" fill="#231f20" textLength="30.0" lengthAdjust="spacingAndGlyphs" >ВХОД</text>
<text x="970.0" y="788.4" font-size="12" stroke="#231f20" stroke-width="0.35" fill="#231f20" textLength="48.0" lengthAdjust="spacingAndGlyphs" >КАМЕРЫ</text>
<text x="970.0" y="802.2" font-size="12" stroke="#231f20" stroke-width="0.35" fill="#231f20" textLength="51.4" lengthAdjust="spacingAndGlyphs" >ЗАДНЕГО</text>
<text x="970.0" y="815.0" font-size="12" stroke="#231f20" stroke-width="0.35" fill="#231f20" textLength="30.0" lengthAdjust="spacingAndGlyphs" >ВИДА</text>
<path d="M492.5,685.5 H349 A14.5,14.5 0 0 0 334.4,700 V820" fill="none" stroke="url(#bdash)" stroke-width="4.6" />
<path d="M507.5,600 V671 A14.5,14.5 0 0 1 493,685.5 H488" fill="none" stroke="#0d3a85" stroke-width="4.6" />
<path d="M507.5,600 V638.4 A14.5,14.5 0 0 1 493,652.9 H356" fill="none" stroke="#0d3a85" stroke-width="4.6" />
<path d="M508,505 V606.8 A14.5,14.5 0 0 1 493.5,621.3 H356" fill="none" stroke="#000" stroke-width="5.6" />
<path d="M508,505 V606.8 A14.5,14.5 0 0 1 493.5,621.3 H356" fill="none" stroke="#fff" stroke-width="2.6" />
<path d="M507,505 V576.6 A14.5,14.5 0 0 1 492.5,591.1 H356" fill="none" stroke="#2bb24c" stroke-width="4.6" />
<path d="M507,505 V546.2 A14.5,14.5 0 0 1 492.5,560.7 H356" fill="none" stroke="#f0e92a" stroke-width="4.6" />
<rect x="412.4" y="550.6" width="66.3" height="20.2" class="bx"/>
<text x="417.5" y="565.0" font-size="12.6" stroke="#231f20" stroke-width="0.35" fill="#231f20" textLength="55.0" lengthAdjust="spacingAndGlyphs" >CCD +12V</text>
<rect x="438.0" y="580.5" width="40.7" height="20.6" class="bx"/>
<text x="444.0" y="595.1" font-size="12.6" stroke="#231f20" stroke-width="0.35" fill="#231f20" textLength="25.2" lengthAdjust="spacingAndGlyphs" >GND</text>
<rect x="438.0" y="611.3" width="40.7" height="20.2" class="bx"/>
<text x="445.0" y="625.7" font-size="12.6" stroke="#231f20" stroke-width="0.35" fill="#231f20" textLength="22.1" lengthAdjust="spacingAndGlyphs" >AD1</text>
<rect x="438.0" y="641.9" width="40.7" height="20.5" class="bx"/>
<text x="445.0" y="656.5" font-size="12.6" stroke="#231f20" stroke-width="0.35" fill="#231f20" textLength="22.1" lengthAdjust="spacingAndGlyphs" >AD2</text>
<text x="221.6" y="554.7" font-size="12.2" stroke="#231f20" stroke-width="0.35" fill="#231f20" textLength="124.1" lengthAdjust="spacingAndGlyphs" >+12V ПРИ АКТИВНОМ</text>
<text x="212.0" y="568.4" font-size="12.2" stroke="#231f20" stroke-width="0.35" fill="#231f20" textLength="133.7" lengthAdjust="spacingAndGlyphs" >РЕЖИМЕ CCD (+300mA)</text>
<text x="198.1" y="586.3" font-size="12.2" stroke="#231f20" stroke-width="0.35" fill="#231f20" textLength="147.6" lengthAdjust="spacingAndGlyphs" >ОБЩИЙ ПРОВОД КНОПОК</text>
<text x="210.9" y="600.0" font-size="12.2" stroke="#231f20" stroke-width="0.35" fill="#231f20" textLength="134.8" lengthAdjust="spacingAndGlyphs" >РУЛЕВОГО УПРАВЛЕНИЯ</text>
<text x="244.9" y="617.3" font-size="12.2" stroke="#231f20" stroke-width="0.35" fill="#231f20" textLength="100.8" lengthAdjust="spacingAndGlyphs" >КАНАЛ 1 КНОПОК</text>
<text x="210.9" y="630.5" font-size="12.2" stroke="#231f20" stroke-width="0.35" fill="#231f20" textLength="134.8" lengthAdjust="spacingAndGlyphs" >РУЛЕВОГО УПРАВЛЕНИЯ</text>
<text x="244.9" y="649.6" font-size="12.2" stroke="#231f20" stroke-width="0.35" fill="#231f20" textLength="100.8" lengthAdjust="spacingAndGlyphs" >КАНАЛ 2 КНОПОК</text>
<text x="210.9" y="661.5" font-size="12.2" stroke="#231f20" stroke-width="0.35" fill="#231f20" textLength="134.8" lengthAdjust="spacingAndGlyphs" >РУЛЕВОГО УПРАВЛЕНИЯ</text>
<rect x="325.6" y="710" width="19.4" height="63" class="bx"/>
<text x="0" y="0" font-size="12.6" fill="#231f20" textLength="47" lengthAdjust="spacingAndGlyphs" transform="translate(339.8,765) rotate(-90)">TV-CONT</text>
<path d="M334.2,835 V829 A14.5,14.5 0 0 1 348.7,814.5 H400" fill="none" stroke="#000" stroke-width="4.4" />
<path d="M334.2,829 V907 A14.5,14.5 0 0 1 319.7,921.5 H300" fill="none" stroke="#000" stroke-width="4.4" />
<path d="M334.2,850.2 H400" fill="none" stroke="#000" stroke-width="4.4" />
<path d="M334.2,890.4 H400" fill="none" stroke="#000" stroke-width="4.4" />
<circle cx="334.2" cy="833.5" r="4.2" fill="#000" />
<path d="M565,814.5 H493" fill="none" stroke="#000" stroke-width="4.4" />
<path d="M565,850.2 H493" fill="none" stroke="#000" stroke-width="4.4" />
<path d="M492,890.4 H504" fill="none" stroke="#000" stroke-width="4.4" />
<g transform="translate(397.5,814.5)"><rect x="41" y="-6.2" width="4.2" height="12.4" fill="#c6c6c6"/><rect x="0.4" y="-4.4" width="10.8" height="8.8" fill="#d8c850" stroke="#3a3500" stroke-width="0.8"/><path d="M2.5,-2 H8 M2.5,0.2 H8 M2.5,2.4 H8" stroke="#444" stroke-width="0.9"/><path d="M4,-3.2 V3.2 M6.2,-3.2 V3.2" stroke="#444" stroke-width="0.5"/><path d="M11.2,-4.4 L17.3,-8.2 H39.4 V8.2 H17.3 L11.2,4.4 Z" fill="#fbe919" stroke="#3a3500" stroke-width="0.9"/><rect x="23" y="-7.8" width="4.6" height="15.6" fill="#d8c522"/><path d="M17.8,-8 V8 M20.8,-8 V8" stroke="#8a7d10" stroke-width="0.9"/></g>
<g transform="translate(494.5,814.5) scale(-1,1)"><rect x="41" y="-6.2" width="4.2" height="12.4" fill="#c6c6c6"/><rect x="0.4" y="-4.4" width="10.8" height="8.8" fill="#d8c850" stroke="#3a3500" stroke-width="0.8"/><path d="M2.5,-2 H8 M2.5,0.2 H8 M2.5,2.4 H8" stroke="#444" stroke-width="0.9"/><path d="M4,-3.2 V3.2 M6.2,-3.2 V3.2" stroke="#444" stroke-width="0.5"/><path d="M11.2,-4.4 L17.3,-8.2 H39.4 V8.2 H17.3 L11.2,4.4 Z" fill="#fbe919" stroke="#3a3500" stroke-width="0.9"/><rect x="23" y="-7.8" width="4.6" height="15.6" fill="#d8c522"/><path d="M17.8,-8 V8 M20.8,-8 V8" stroke="#8a7d10" stroke-width="0.9"/></g>
<rect x="358.3" y="804.5" width="32.7" height="20.0" class="bx"/>
<text x="363.0" y="818.8" font-size="12.6" stroke="#231f20" stroke-width="0.35" fill="#231f20" textLength="21.6" lengthAdjust="spacingAndGlyphs" >V-IN</text>
<rect x="505.0" y="804.5" width="33.8" height="20.0" class="bx"/>
<text x="509.8" y="818.8" font-size="12.6" stroke="#231f20" stroke-width="0.35" fill="#231f20" textLength="21.6" lengthAdjust="spacingAndGlyphs" >V-IN</text>
<g transform="translate(397.5,850.2)"><rect x="41" y="-6.2" width="4.2" height="12.4" fill="#c6c6c6"/><rect x="0.4" y="-4.4" width="10.8" height="8.8" fill="#e4e4e4" stroke="#2a2a2a" stroke-width="0.8"/><path d="M2.5,-2 H8 M2.5,0.2 H8 M2.5,2.4 H8" stroke="#555" stroke-width="0.9"/><path d="M4,-3.2 V3.2 M6.2,-3.2 V3.2" stroke="#555" stroke-width="0.5"/><path d="M11.2,-4.4 L17.3,-8.2 H39.4 V8.2 H17.3 L11.2,4.4 Z" fill="#ffffff" stroke="#2a2a2a" stroke-width="0.9"/><rect x="23" y="-7.8" width="4.6" height="15.6" fill="#c6c6c6"/><path d="M17.8,-8 V8 M20.8,-8 V8" stroke="#1a1a1a" stroke-width="0.9"/></g>
<g transform="translate(494.5,850.2) scale(-1,1)"><rect x="41" y="-6.2" width="4.2" height="12.4" fill="#c6c6c6"/><rect x="0.4" y="-4.4" width="10.8" height="8.8" fill="#e4e4e4" stroke="#2a2a2a" stroke-width="0.8"/><path d="M2.5,-2 H8 M2.5,0.2 H8 M2.5,2.4 H8" stroke="#555" stroke-width="0.9"/><path d="M4,-3.2 V3.2 M6.2,-3.2 V3.2" stroke="#555" stroke-width="0.5"/><path d="M11.2,-4.4 L17.3,-8.2 H39.4 V8.2 H17.3 L11.2,4.4 Z" fill="#ffffff" stroke="#2a2a2a" stroke-width="0.9"/><rect x="23" y="-7.8" width="4.6" height="15.6" fill="#c6c6c6"/><path d="M17.8,-8 V8 M20.8,-8 V8" stroke="#1a1a1a" stroke-width="0.9"/></g>
<rect x="358.3" y="840.2" width="32.7" height="20.0" class="bx"/>
<text x="363.0" y="854.5" font-size="12.6" stroke="#231f20" stroke-width="0.35" fill="#231f20" textLength="20.9" lengthAdjust="spacingAndGlyphs" >L-IN</text>
<rect x="503.2" y="840.2" width="33.3" height="20.0" class="bx"/>
<text x="508.0" y="854.5" font-size="12.6" stroke="#231f20" stroke-width="0.35" fill="#231f20" textLength="20.9" lengthAdjust="spacingAndGlyphs" >L-IN</text>
<g transform="translate(397.5,890.4)"><rect x="41" y="-6.2" width="4.2" height="12.4" fill="#c6c6c6"/><rect x="0.4" y="-4.4" width="10.8" height="8.8" fill="#a65a4e" stroke="#8a2a25" stroke-width="0.8"/><path d="M2.5,-2 H8 M2.5,0.2 H8 M2.5,2.4 H8" stroke="#5a3a30" stroke-width="0.9"/><path d="M4,-3.2 V3.2 M6.2,-3.2 V3.2" stroke="#5a3a30" stroke-width="0.5"/><path d="M11.2,-4.4 L17.3,-8.2 H39.4 V8.2 H17.3 L11.2,4.4 Z" fill="#ee1f26" stroke="#8a2a25" stroke-width="0.9"/><rect x="23" y="-7.8" width="4.6" height="15.6" fill="#c9302c"/><path d="M17.8,-8 V8 M20.8,-8 V8" stroke="#8c2a22" stroke-width="0.9"/></g>
<g transform="translate(494.5,890.4) scale(-1,1)"><rect x="41" y="-6.2" width="4.2" height="12.4" fill="#c6c6c6"/><rect x="0.4" y="-4.4" width="10.8" height="8.8" fill="#a65a4e" stroke="#8a2a25" stroke-width="0.8"/><path d="M2.5,-2 H8 M2.5,0.2 H8 M2.5,2.4 H8" stroke="#5a3a30" stroke-width="0.9"/><path d="M4,-3.2 V3.2 M6.2,-3.2 V3.2" stroke="#5a3a30" stroke-width="0.5"/><path d="M11.2,-4.4 L17.3,-8.2 H39.4 V8.2 H17.3 L11.2,4.4 Z" fill="#ee1f26" stroke="#8a2a25" stroke-width="0.9"/><rect x="23" y="-7.8" width="4.6" height="15.6" fill="#c9302c"/><path d="M17.8,-8 V8 M20.8,-8 V8" stroke="#8c2a22" stroke-width="0.9"/></g>
<rect x="358.3" y="880.4" width="32.7" height="20.0" class="bx"/>
<text x="363.0" y="894.7" font-size="12.6" stroke="#231f20" stroke-width="0.35" fill="#231f20" textLength="22.8" lengthAdjust="spacingAndGlyphs" >R-IN</text>
<rect x="503.2" y="880.4" width="33.3" height="20.0" class="bx"/>
<text x="508.0" y="894.7" font-size="12.6" stroke="#231f20" stroke-width="0.35" fill="#231f20" textLength="22.8" lengthAdjust="spacingAndGlyphs" >R-IN</text>
<path d="M78,843.6 H52.2 A14,14 0 0 0 38.2,857.6 V945.5 A14,14 0 0 0 52.2,959.5 H70" fill="none" stroke="#000" stroke-width="4.3" />
<path d="M61.8,960 V989 A14.5,14.5 0 0 0 76.3,1003.5 H395" fill="none" stroke="#000" stroke-width="4.4" />
<path d="M72,957 H76.2 V961.8 H72 Z" fill="#111"/><rect x="76.2" y="957.2" width="2.9" height="4.6" fill="#9a9a9a"/><path d="M80.1,955.4 H89.2 Q89.9,955.4 89.9,956.5 V962.2 Q89.9,963.3 89.2,963.3 H80.1 Z" fill="#111"/>
<path d="M96.7,887.4 H225 Q229.5,931.4 225,975.5 H96.7 Z" fill="#000"/>
<path d="M125.2,887.4 Q129.5,931.4 125.2,975.5" fill="none" stroke="#fff" stroke-width="1.8"/>
<circle cx="103.8" cy="922.6" r="1.15" fill="#fff"/><circle cx="103.8" cy="926.9" r="1.15" fill="#fff"/><circle cx="103.8" cy="931.2" r="1.15" fill="#fff"/><circle cx="103.8" cy="935.5" r="1.15" fill="#fff"/><circle cx="103.8" cy="939.8" r="1.15" fill="#fff"/><circle cx="103.8" cy="944.1" r="1.15" fill="#fff"/><circle cx="108.0" cy="922.6" r="1.15" fill="#fff"/><circle cx="108.0" cy="926.9" r="1.15" fill="#fff"/><circle cx="108.0" cy="931.2" r="1.15" fill="#fff"/><circle cx="108.0" cy="935.5" r="1.15" fill="#fff"/><circle cx="108.0" cy="939.8" r="1.15" fill="#fff"/><circle cx="108.0" cy="944.1" r="1.15" fill="#fff"/><circle cx="112.2" cy="922.6" r="1.15" fill="#fff"/><circle cx="112.2" cy="926.9" r="1.15" fill="#fff"/><circle cx="112.2" cy="931.2" r="1.15" fill="#fff"/><circle cx="112.2" cy="935.5" r="1.15" fill="#fff"/><circle cx="112.2" cy="939.8" r="1.15" fill="#fff"/><circle cx="112.2" cy="944.1" r="1.15" fill="#fff"/><circle cx="116.4" cy="922.6" r="1.15" fill="#fff"/><circle cx="116.4" cy="926.9" r="1.15" fill="#fff"/><circle cx="116.4" cy="931.2" r="1.15" fill="#fff"/><circle cx="116.4" cy="935.5" r="1.15" fill="#fff"/><circle cx="116.4" cy="939.8" r="1.15" fill="#fff"/><circle cx="116.4" cy="944.1" r="1.15" fill="#fff"/>
<circle cx="105.4" cy="957.4" r="3.3" fill="none" stroke="#fff" stroke-width="1.6"/>
<text x="0" y="0" font-size="9.5" font-weight="bold" fill="#fff" textLength="16.2" lengthAdjust="spacingAndGlyphs" transform="translate(113.3,950) rotate(90)">ANT</text>
<text x="138.8" y="960.5" font-size="12.8" stroke="#fff" stroke-width="0.35" fill="#fff" textLength="75.7" lengthAdjust="spacingAndGlyphs" >Analog TV Box</text>
<rect x="230.3" y="901.6" width="8.1" height="59.8" fill="#cdcdcd" stroke="#888" stroke-width="0.8"/>
<polygon points="239.4,922 248,905 248,912.5 255.7,912.5 255.7,931 248,931 248,938.7" fill="#8a8a8a"/>
<rect x="267.4" y="903.7" width="13.6" height="35.0" fill="#000" />
<rect x="280.5" y="913.3" width="21.5" height="15.5" fill="#000" />
<rect x="134.8" y="831.8" width="83.7" height="25.4" rx="5.5" fill="#bdbdbf" stroke="#a8a8a8" stroke-width="0.8"/>
<g fill="none" stroke="#3a3a3a" stroke-width="0.85"><path d="M138.4,835.6 H187.3 V839.6 H142.6 Z"/><path d="M137.8,836.5 V851.5 Q137.8,854.4 140.8,854.4 H143"/><path d="M134.5,844.2 H215.5"/><path d="M179.6,844.4 L194,854.4 H214.8 V844.4"/><path d="M143,854.4 L147.6,848.2 H176.5 V854.4 Z"/></g>
<rect x="75.0" y="836.0" width="58.7" height="16.6" fill="#000" />
<text x="79.3" y="848.1" font-size="12.5" stroke="#fff" stroke-width="0.35" font-weight="bold" fill="#fff" textLength="50.7" lengthAdjust="spacingAndGlyphs" >Антенна</text>
<path d="M380,951.9 H568" fill="none" stroke="#f6d00f" stroke-width="4.4" />
<path d="M238,951.9 H376 A14.5,14.5 0 0 1 390.5,966.4 V1043.5 A14.5,14.5 0 0 0 405,1058 H568" fill="none" stroke="#000" stroke-width="4.4" />
<path d="M393,1004 H568" fill="none" stroke="#e8262a" stroke-width="4.4" />
<rect x="456.4" y="941.4" width="40.5" height="20.3" class="bx"/>
<text x="461.0" y="955.9" font-size="12.6" stroke="#231f20" stroke-width="0.35" fill="#231f20" textLength="26.8" lengthAdjust="spacingAndGlyphs" >+12V</text>
<rect x="456.4" y="994.5" width="32.2" height="20.4" class="bx"/>
<text x="461.0" y="1009.0" font-size="12.6" stroke="#231f20" stroke-width="0.35" fill="#231f20" textLength="22.7" lengthAdjust="spacingAndGlyphs" >ACC</text>
<rect x="456.4" y="1048.0" width="32.2" height="20.3" class="bx"/>
<text x="460.5" y="1062.5" font-size="12.6" stroke="#231f20" stroke-width="0.35" fill="#231f20" textLength="22.7" lengthAdjust="spacingAndGlyphs" >GND</text>
<path d="M903.4,895.2 H1076 A16,16 0 0 0 1092,879.2" fill="none" stroke="#f6d00f" stroke-width="4.4" />
<path d="M903.4,949.5 H1076 A16,16 0 0 0 1092,933.5" fill="none" stroke="#e8262a" stroke-width="4.4" />
<path d="M727.5,450 V455 A14,14 0 0 0 741.5,468.7 H1076.3 A16,16 0 0 1 1092.3,484.7 V988 A15.7,15.7 0 0 1 1076.6,1003.7 H903.4" fill="none" stroke="#000" stroke-width="4.3" />
<rect x="974.2" y="884.2" width="39.6" height="20.5" class="bx"/>
<text x="978.5" y="898.8" font-size="12.6" stroke="#231f20" stroke-width="0.35" fill="#231f20" textLength="26.8" lengthAdjust="spacingAndGlyphs" >+12V</text>
<rect x="974.2" y="938.4" width="39.6" height="20.9" class="bx"/>
<text x="981.5" y="953.2" font-size="12.6" stroke="#231f20" stroke-width="0.35" fill="#231f20" textLength="23.9" lengthAdjust="spacingAndGlyphs" >ACC</text>
<rect x="974.2" y="993.0" width="39.6" height="20.2" class="bx"/>
<text x="980.5" y="1007.4" font-size="12.6" stroke="#231f20" stroke-width="0.35" fill="#231f20" textLength="25.2" lengthAdjust="spacingAndGlyphs" >GND</text>
<text x="742.4" y="898.0" font-size="12" stroke="#231f20" stroke-width="0.35" fill="#231f20" textLength="147.9" lengthAdjust="spacingAndGlyphs" >ПОСТОЯННОЕ ПИТАНИЕ +</text>
<text x="734.8" y="953.1" font-size="12" stroke="#231f20" stroke-width="0.35" fill="#231f20" textLength="155.5" lengthAdjust="spacingAndGlyphs" >СИГНАЛ АСС АВТОМОБИЛЯ</text>
<text x="765.6" y="1006.8" font-size="12" stroke="#231f20" stroke-width="0.35" fill="#231f20" textLength="123.9" lengthAdjust="spacingAndGlyphs" >МАССА АВТОМОБИЛЯ</text>
<defs><pattern id="sw" patternUnits="userSpaceOnUse" width="7.78" height="40" patternTransform="rotate(45)"><rect width="7.78" height="40" fill="#fff"/><rect width="2.49" height="40" fill="#000"/></pattern><pattern id="sg" patternUnits="userSpaceOnUse" width="7.78" height="40" patternTransform="rotate(45)"><rect width="7.78" height="40" fill="#9a9a9a"/><rect width="2.49" height="40" fill="#000"/></pattern><pattern id="sp" patternUnits="userSpaceOnUse" width="7.78" height="40" patternTransform="rotate(45)"><rect width="7.78" height="40" fill="#8f7cb3"/><rect width="2.49" height="40" fill="#000"/></pattern><pattern id="sb" patternUnits="userSpaceOnUse" width="7.78" height="40" patternTransform="rotate(45)"><rect width="7.78" height="40" fill="#7d4545"/><rect width="2.49" height="40" fill="#000"/></pattern></defs>
<path d="M1093.5,504.7 V508.7 A13,13 0 0 0 1106.5,521.7 H1314" fill="none" stroke="#000" stroke-width="5.8" />
<path d="M1093.5,504.7 V508.7 A13,13 0 0 0 1106.5,521.7 H1314" fill="none" stroke="#fff" stroke-width="3.0" />
<path d="M1093.5,529.6 V533.6 A13,13 0 0 0 1106.5,546.6 H1314" fill="none" stroke="#000" stroke-width="5.8" />
<path d="M1093.5,529.6 V533.6 A13,13 0 0 0 1106.5,546.6 H1314" fill="none" stroke="url(#sw)" stroke-width="3.2" />
<path d="M1093.5,553.5 V557.5 A13,13 0 0 0 1106.5,570.5 H1314" fill="none" stroke="#8c8c8c" stroke-width="4.6" />
<path d="M1093.5,577.5 V581.5 A13,13 0 0 0 1106.5,594.5 H1314" fill="none" stroke="#000" stroke-width="5.8" />
<path d="M1093.5,577.5 V581.5 A13,13 0 0 0 1106.5,594.5 H1314" fill="none" stroke="url(#sg)" stroke-width="3.2" />
<path d="M1093.5,600.8 V604.8 A13,13 0 0 0 1106.5,617.8 H1314" fill="none" stroke="#8b2f97" stroke-width="4.6" />
<path d="M1093.5,625.1 V629.1 A13,13 0 0 0 1106.5,642.1 H1314" fill="none" stroke="#000" stroke-width="5.8" />
<path d="M1093.5,625.1 V629.1 A13,13 0 0 0 1106.5,642.1 H1314" fill="none" stroke="url(#sp)" stroke-width="3.2" />
<path d="M1093.5,648.6 V652.6 A13,13 0 0 0 1106.5,665.6 H1314" fill="none" stroke="#7b4040" stroke-width="4.6" />
<path d="M1093.5,672.2 V676.2 A13,13 0 0 0 1106.5,689.2 H1314" fill="none" stroke="#000" stroke-width="5.8" />
<path d="M1093.5,672.2 V676.2 A13,13 0 0 0 1106.5,689.2 H1314" fill="none" stroke="url(#sb)" stroke-width="3.2" />
<path d="M1093.5,698.4 V702.4 A13,13 0 0 0 1106.5,715.4 H1314" fill="none" stroke="#8b2f97" stroke-width="4.6" />
<path d="M1093.5,724.2 V728.2 A13,13 0 0 0 1106.5,741.2 H1314" fill="none" stroke="#f3a3a5" stroke-width="4.6" />
<path d="M1093.5,748.9 V752.9 A13,13 0 0 0 1106.5,765.9 H1314" fill="none" stroke="#10a850" stroke-width="4.6" />
<path d="M1093.5,774.4 V778.4 A13,13 0 0 0 1106.5,791.4 H1314" fill="none" stroke="#000" stroke-width="5.8" />
<path d="M1093.5,774.4 V778.4 A13,13 0 0 0 1106.5,791.4 H1314" fill="none" stroke="#fff" stroke-width="3.0" />
<path d="M1093.5,810.1 V814.1 A13,13 0 0 0 1106.5,827.1 H1314" fill="none" stroke="#f28c28" stroke-width="4.6" />
<path d="M1093.5,838.1 V842.1 A13,13 0 0 0 1106.5,855.1 H1314" fill="none" stroke="#0f4c9c" stroke-width="4.6" />
<path d="M1092.3,484 V990" fill="none" stroke="#000" stroke-width="4.3" />
<rect x="1176.5" y="511.6" width="35.1" height="20.2" class="bx"/>
<text x="1181.5" y="526.0" font-size="12.6" stroke="#231f20" stroke-width="0.35" fill="#231f20" textLength="19.9" lengthAdjust="spacingAndGlyphs" >FL+</text>
<rect x="1176.5" y="536.5" width="35.1" height="20.2" class="bx"/>
<text x="1181.5" y="550.9" font-size="12.6" stroke="#231f20" stroke-width="0.35" fill="#231f20" textLength="17.0" lengthAdjust="spacingAndGlyphs" >FL-</text>
<rect x="1176.5" y="560.4" width="35.1" height="20.2" class="bx"/>
<text x="1181.5" y="574.8" font-size="12.6" stroke="#231f20" stroke-width="0.35" fill="#231f20" textLength="21.7" lengthAdjust="spacingAndGlyphs" >FR+</text>
<rect x="1176.5" y="584.4" width="35.1" height="20.2" class="bx"/>
<text x="1181.5" y="598.8" font-size="12.6" stroke="#231f20" stroke-width="0.35" fill="#231f20" textLength="18.9" lengthAdjust="spacingAndGlyphs" >FR-</text>
<rect x="1176.5" y="607.7" width="34.8" height="20.2" class="bx"/>
<text x="1181.5" y="622.1" font-size="12.6" stroke="#231f20" stroke-width="0.35" fill="#231f20" textLength="21.1" lengthAdjust="spacingAndGlyphs" >RL+</text>
<rect x="1176.5" y="632.0" width="34.8" height="20.2" class="bx"/>
<text x="1181.5" y="646.4" font-size="12.6" stroke="#231f20" stroke-width="0.35" fill="#231f20" textLength="18.3" lengthAdjust="spacingAndGlyphs" >RL-</text>
<rect x="1176.5" y="655.5" width="34.8" height="20.2" class="bx"/>
<text x="1181.5" y="669.9" font-size="12.6" stroke="#231f20" stroke-width="0.35" fill="#231f20" textLength="23.0" lengthAdjust="spacingAndGlyphs" >RR+</text>
<rect x="1176.5" y="679.1" width="34.8" height="20.2" class="bx"/>
<text x="1181.5" y="693.5" font-size="12.6" stroke="#231f20" stroke-width="0.35" fill="#231f20" textLength="20.2" lengthAdjust="spacingAndGlyphs" >RR-</text>
<rect x="1176.5" y="705.3" width="42.2" height="20.2" class="bx"/>
<text x="1181.5" y="719.7" font-size="12.6" stroke="#231f20" stroke-width="0.35" fill="#231f20" textLength="32.7" lengthAdjust="spacingAndGlyphs" >SPEED</text>
<rect x="1176.5" y="731.1" width="45.4" height="20.2" class="bx"/>
<text x="1181.5" y="745.5" font-size="12.6" stroke="#231f20" stroke-width="0.35" fill="#231f20" textLength="35.9" lengthAdjust="spacingAndGlyphs" >BRAKE</text>
<rect x="1176.5" y="755.8" width="48.9" height="20.2" class="bx"/>
<text x="1181.5" y="770.2" font-size="12.6" stroke="#231f20" stroke-width="0.35" fill="#231f20" textLength="38.8" lengthAdjust="spacingAndGlyphs" >AMP+B</text>
<rect x="1176.5" y="781.3" width="66.9" height="20.2" class="bx"/>
<text x="1181.5" y="795.7" font-size="12.6" stroke="#231f20" stroke-width="0.35" fill="#231f20" textLength="57.4" lengthAdjust="spacingAndGlyphs" >ANT-CONT</text>
<rect x="1176.5" y="817.0" width="26.5" height="20.2" class="bx"/>
<text x="1181.5" y="831.4" font-size="12.6" stroke="#231f20" stroke-width="0.35" fill="#231f20" textLength="15.8" lengthAdjust="spacingAndGlyphs" >ILL</text>
<rect x="1176.5" y="845.0" width="58.8" height="20.2" class="bx"/>
<text x="1181.5" y="859.4" font-size="12.6" stroke="#231f20" stroke-width="0.35" fill="#231f20" textLength="49.3" lengthAdjust="spacingAndGlyphs" >REVERSE</text>
<path d="M1312.8,515 H1324 L1333.4,505.5 V706 L1324,696.5 H1312.8 Z" fill="#000"/>
<path d="M1312.8,552.5 H1322 L1327.3,557.7 L1322,562.9 H1312.8 Z" fill="#fff"/>
<path d="M1312.8,602.0 H1322 L1327.3,607.2 L1322,612.4 H1312.8 Z" fill="#fff"/>
<path d="M1312.8,649.5 H1322 L1327.3,654.7 L1322,659.9 H1312.8 Z" fill="#fff"/>
<circle cx="1318.2" cy="716.4" r="10" fill="#fff" stroke="#000" stroke-width="1.5"/>
<path d="M1313.5,711.7 L1322.9,721.1 M1322.9,711.7 L1313.5,721.1" stroke="#e2231a" stroke-width="3.2" stroke-linecap="round"/>
<text x="1344.8" y="531.0" font-size="11.8" stroke="#231f20" stroke-width="0.35" fill="#231f20" textLength="132.2" lengthAdjust="spacingAndGlyphs" >ЛЕВЫЙ ФРОНТАЛЬНЫЙ</text>
<text x="1344.8" y="544.4" font-size="11.8" stroke="#231f20" stroke-width="0.35" fill="#231f20" textLength="59.4" lengthAdjust="spacingAndGlyphs" >ДИНАМИК</text>
<text x="1344.8" y="579.4" font-size="11.8" stroke="#231f20" stroke-width="0.35" fill="#231f20" textLength="140.6" lengthAdjust="spacingAndGlyphs" >ПРАВЫЙ ФРОНТАЛЬНЫЙ</text>
<text x="1344.8" y="592.7" font-size="11.8" stroke="#231f20" stroke-width="0.35" fill="#231f20" textLength="59.4" lengthAdjust="spacingAndGlyphs" >ДИНАМИК</text>
<text x="1344.8" y="626.8" font-size="11.8" stroke="#231f20" stroke-width="0.35" fill="#231f20" textLength="100.2" lengthAdjust="spacingAndGlyphs" >ЛЕВЫЙ ТЫЛОВОЙ</text>
<text x="1344.8" y="640.2" font-size="11.8" stroke="#231f20" stroke-width="0.35" fill="#231f20" textLength="59.4" lengthAdjust="spacingAndGlyphs" >ДИНАМИК</text>
<text x="1344.8" y="674.3" font-size="11.8" stroke="#231f20" stroke-width="0.35" fill="#231f20" textLength="108.6" lengthAdjust="spacingAndGlyphs" >ПРАВЫЙ ТЫЛОВОЙ</text>
<text x="1344.8" y="687.3" font-size="11.8" stroke="#231f20" stroke-width="0.35" fill="#231f20" textLength="59.4" lengthAdjust="spacingAndGlyphs" >ДИНАМИК</text>
<text x="1344.8" y="720.9" font-size="11.8" stroke="#231f20" stroke-width="0.35" fill="#231f20" textLength="113.2" lengthAdjust="spacingAndGlyphs" >НЕ ПОДКЛЮЧАЕТСЯ</text>
<text x="1344.8" y="743.3" font-size="11.8" stroke="#231f20" stroke-width="0.35" fill="#231f20" textLength="195.2" lengthAdjust="spacingAndGlyphs" >ВХОД СТОЯНОЧНОГО ТОРМОЗА (-)</text>
<text x="1344.8" y="763.1" font-size="11.8" stroke="#231f20" stroke-width="0.35" fill="#231f20" textLength="115.9" lengthAdjust="spacingAndGlyphs" >ВЫХОД ВКЛЮЧЕНИЯ</text>
<text x="1344.8" y="775.8" font-size="11.8" stroke="#231f20" stroke-width="0.35" fill="#231f20" textLength="124.1" lengthAdjust="spacingAndGlyphs" >УСИЛИТЕЛЯ (+300mA)</text>
<text x="1344.8" y="795.2" font-size="11.8" stroke="#231f20" stroke-width="0.35" fill="#231f20" textLength="115.9" lengthAdjust="spacingAndGlyphs" >ВЫХОД ВКЛЮЧЕНИЯ</text>
<text x="1344.8" y="808.3" font-size="11.8" stroke="#231f20" stroke-width="0.35" fill="#231f20" textLength="180.2" lengthAdjust="spacingAndGlyphs" >АКТИВНОЙ АНТЕННЫ (+300mA)</text>
<text x="1344.8" y="824.3" font-size="11.8" stroke="#231f20" stroke-width="0.35" fill="#231f20" textLength="101.9" lengthAdjust="spacingAndGlyphs" >ВХОД ПОДСВЕТКИ</text>
<text x="1344.8" y="837.0" font-size="11.8" stroke="#231f20" stroke-width="0.35" fill="#231f20" textLength="66.8" lengthAdjust="spacingAndGlyphs" >КНОПОК (+)</text>
<text x="1344.8" y="852.4" font-size="11.8" stroke="#231f20" stroke-width="0.35" fill="#231f20" textLength="80.0" lengthAdjust="spacingAndGlyphs" >ВХОД СИГНАЛ</text>
<text x="1344.8" y="864.8" font-size="11.8" stroke="#231f20" stroke-width="0.35" fill="#231f20" textLength="110.2" lengthAdjust="spacingAndGlyphs" >ЗАДНЕЙ ПЕРЕДАЧИ</text>
</svg></body></html>
